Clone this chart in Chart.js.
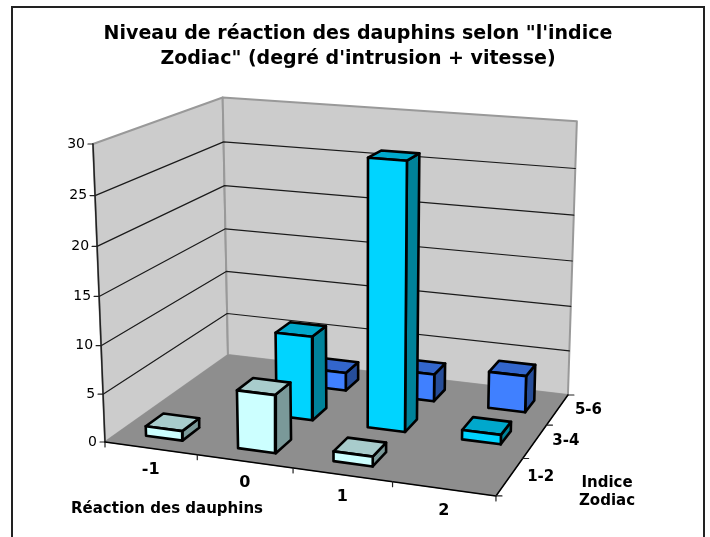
<!DOCTYPE html>
<html>
<head>
<meta charset="utf-8">
<title>Niveau de réaction des dauphins</title>
<script src="https://cdn.jsdelivr.net/npm/chart.js@4"></script>
<style>
  html, body { margin: 0; padding: 0; background: #fff; }
  canvas { display: block; }
</style>
</head>
<body>
<canvas id="myChart" width="710" height="537"></canvas>
<script>
// Data
const categories = ["-1", "0", "1", "2"];
const series = ["1-2", "3-4", "5-6"];
const values12 = [1, 6, 1, 0];
const values34 = [0, 9, 28, 1];
const values56 = [0, 2, 3, 4];
const valueTicks = [0, 5, 10, 15, 20, 25, 30];
const titleLines = ["Niveau de réaction des dauphins selon \"l'indice", "Zodiac\" (degré d'intrusion + vitesse)"];

const seriesValues = [values12, values34, values56];
const valueMax = valueTicks[valueTicks.length - 1];
const font = "'DejaVu Sans', Verdana, sans-serif";

// Colours of each series: front, top, side
const seriesColors = [
    ["#CCFFFF", "#A8CCCC", "#7A9999"],
    ["#00D4FF", "#00A8CC", "#008299"],
    ["#4080FF", "#3366CC", "#264D99"]
];

// Camera: box coordinates u (category), v (series), w (value) all 0..1, to the chart plane
const origin = [105, 442];
const axisU = [354.7, 17.7];
const axisV = [160.7, -28.2];
const axisW = [-16.2, -304.5];
const persp = [-0.0731, 0.1655, -0.045];

function project(u, v, w) {
    const d = 1 + persp[0] * u + persp[1] * v + persp[2] * w;
    return {
        x: (origin[0] + axisU[0] * u + axisV[0] * v + axisW[0] * w) / d,
        y: (origin[1] + axisU[1] * u + axisV[1] * v + axisW[1] * w) / d
    };
}

// Every face or line of the picture is one scatter dataset
const layers = [];
function addShape(points, fillColor, lineColor, lineWidth) {
    layers.push({
        data: points,
        showLine: true,
        fill: fillColor ? "shape" : false,
        backgroundColor: fillColor || "transparent",
        borderColor: lineColor,
        borderWidth: lineWidth,
        borderJoinStyle: "round",
        borderCapStyle: "round",
        pointRadius: 0,
        tension: 0,
        clip: false
    });
}
function addFace(corners, fillColor, lineColor, lineWidth) {
    const pts = corners.map(c => project(c[0], c[1], c[2]));
    pts.push(pts[0]);
    addShape(pts, fillColor, lineColor, lineWidth);
}

// Walls and floor
addFace([[0, 0, 0], [0, 1, 0], [0, 1, 1], [0, 0, 1]], "#CCCCCC", "#999999", 2);
addFace([[0, 1, 0], [1, 1, 0], [1, 1, 1], [0, 1, 1]], "#CCCCCC", "#999999", 2);
addFace([[0, 0, 0], [1, 0, 0], [1, 1, 0], [0, 1, 0]], "#8E8E8E", "#8E8E8E", 1);

// Gridlines and value axis
valueTicks.forEach(t => {
    const w = t / valueMax;
    if (t > 0 && t < valueMax) {
        addShape([project(0, 0, w), project(0, 1, w), project(1, 1, w)], null, "#1A1A1A", 1.2);
    }
    const p = project(0, 0, w);
    addShape([{ x: p.x - 5, y: p.y }, p], null, "#222222", 1.2);
});
addShape([project(0, 0, 0), project(0, 0, 1)], null, "#222222", 1.5);

// Floor edges with their ticks
addShape([project(0, 0, 0), project(1, 0, 0), project(1, 1, 0)], null, "#000000", 1.5);
categories.concat([""]).forEach((c, i) => {
    const p = project(i / categories.length, 0, 0);
    addShape([p, { x: p.x, y: p.y + 5 }], null, "#222222", 1.2);
});
series.concat([""]).forEach((s, j) => {
    const p = project(1, j / series.length, 0);
    addShape([p, { x: p.x + 6, y: p.y }], null, "#222222", 1.2);
});

// Bars, back row first
const barWidth = 0.4 / categories.length;
const barDepth = 0.4 / series.length;
for (let j = series.length - 1; j >= 0; j--) {
    categories.forEach((c, i) => {
        const value = seriesValues[j][i];
        if (!value) return;
        const u0 = (i + 0.5) / categories.length - barWidth / 2, u1 = u0 + barWidth;
        const v0 = (j + 0.5) / series.length - barDepth / 2, v1 = v0 + barDepth;
        const w = value / valueMax;
        const colors = seriesColors[j];
        addFace([[u1, v0, 0], [u1, v1, 0], [u1, v1, w], [u1, v0, w]], colors[2], "#000000", 2.6);
        addFace([[u0, v0, w], [u1, v0, w], [u1, v1, w], [u0, v1, w]], colors[1], "#000000", 2.6);
        addFace([[u0, v0, 0], [u1, v0, 0], [u1, v0, w], [u0, v0, w]], colors[0], "#000000", 2.6);
    });
}

// First shape in the list is painted first
layers.forEach((l, i) => { l.order = layers.length - i; });

// Frame and the labels that follow the perspective
const labelsPlugin = {
    id: "labels3d",
    beforeDraw(chart) {
        const ctx = chart.ctx;
        ctx.save();
        ctx.strokeStyle = "#222222";
        ctx.lineWidth = 2;
        ctx.beginPath();
        ctx.moveTo(12, 537);
        ctx.lineTo(12, 7);
        ctx.lineTo(704, 7);
        ctx.lineTo(704, 537);
        ctx.stroke();
        ctx.restore();
    },
    afterDatasetsDraw(chart) {
        const ctx = chart.ctx;
        const sx = chart.scales.x, sy = chart.scales.y;
        const put = (text, p, dx, dy, align, style) => {
            ctx.font = style;
            ctx.textAlign = align;
            ctx.fillText(text, sx.getPixelForValue(p.x) + dx, sy.getPixelForValue(p.y) + dy);
        };
        ctx.save();
        ctx.fillStyle = "#000000";
        ctx.textBaseline = "middle";
        valueTicks.forEach(t => {
            put(String(t), project(0, 0, t / valueMax), -8, 0, "right", "14px " + font);
        });
        categories.forEach((c, i) => {
            put(c, project((i + 0.5) / categories.length, 0, 0), 0, 22, "center", "bold 16px " + font);
        });
        series.forEach((s, j) => {
            put(s, project(1, (j + 0.5) / series.length, 0), 31, 0, "center", "bold 15px " + font);
        });
        ctx.font = "bold 15px " + font;
        ctx.textAlign = "center";
        ctx.fillText("Réaction des dauphins", 167, 509);
        ctx.fillText("Indice", 607, 483);
        ctx.fillText("Zodiac", 607, 501);
        ctx.restore();
    }
};

const titleSize = 19, titleLineHeight = 25 / 19, titleTop = 22, titleBottom = 17;
const planeTop = titleSize * titleLineHeight * titleLines.length + titleTop + titleBottom;
const planeLeft = 6;

var ctx = document.getElementById("myChart").getContext("2d");
var myChart = new Chart(ctx, {
    type: "scatter",
    data: { datasets: layers },
    options: {
        responsive: false,
        animation: false,
        events: [],
        layout: { padding: { left: planeLeft } },
        scales: {
            x: { type: "linear", display: false, min: planeLeft, max: 710 },
            y: { type: "linear", display: false, reverse: true, min: planeTop, max: 537 }
        },
        plugins: {
            legend: { display: false },
            tooltip: { enabled: false },
            title: {
                display: true,
                text: titleLines,
                color: "#000000",
                font: { family: font, size: titleSize, weight: "bold", lineHeight: titleLineHeight },
                padding: { top: titleTop, bottom: titleBottom }
            }
        }
    },
    plugins: [labelsPlugin]
});
</script>
</body>
</html>
